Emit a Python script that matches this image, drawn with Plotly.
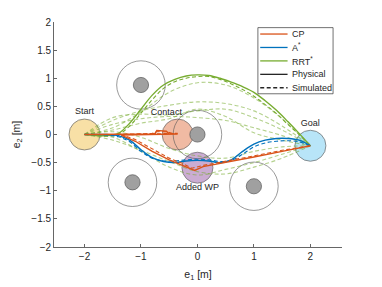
import plotly.graph_objects as go

# ---------------- data ----------------
# obstacles (centre x, centre y)
obs_x = [-1.0, 0.0, -1.15, 1.0]
obs_y = [0.88, 0.0, -0.85, -0.92]
obs_core_r = 0.135
obs_safe_r = 0.43

# waypoint discs
wp_names = ["Start", "Contact", "Added WP", "Goal"]
wp_x = [-2.0, -0.35, 0.0, 2.0]
wp_y = [0.0, 0.0, -0.59, -0.2]
wp_r = 0.275
wp_fill = ["rgba(237,177,32,0.4)", "rgba(217,83,25,0.4)",
           "rgba(126,47,142,0.4)", "rgba(77,190,238,0.4)"]
lbl_x = [-2.0, -0.55, 0.0, 2.0]
lbl_y = [0.4, 0.39, -0.95, 0.2]

# CP (contact-based) path
cp_phys_x = [-2.0, -1.4, -0.8, -0.75, -0.72, -0.55, -0.5, -0.35,
             -1.35, -1.1, -0.8, -0.5, -0.25, -0.05, 0.1, 0.5, 1.0, 1.5, 2.0]
cp_phys_y = [0.0, 0.0, 0.01, 0.02, 0.07, 0.06, 0.01, 0.01,
             -0.01, -0.12, -0.3, -0.45, -0.55, -0.64, -0.57, -0.5, -0.4, -0.3, -0.2]
cp_sim_x = [-2.0, -1.4, -0.8, -0.72, -0.55, -0.45, -0.35,
            -1.35, -1.1, -0.8, -0.5, -0.25, -0.1, 0.1, 0.5, 1.0, 1.5, 2.0]
cp_sim_y = [0.0, 0.0, 0.02, 0.05, 0.05, 0.02, 0.02,
            0.0, -0.09, -0.26, -0.42, -0.52, -0.6, -0.55, -0.48, -0.38, -0.28, -0.2]

# A* path
as_phys_x = [-2.0, -1.6, -1.4, -1.2, -1.0, -0.8, -0.6, -0.4, -0.2, 0.0,
             0.2, 0.4, 0.6, 0.8, 1.0, 1.2, 1.4, 1.6, 1.8, 2.0]
as_phys_y = [0.0, 0.0, -0.02, -0.1, -0.27, -0.41, -0.48, -0.5, -0.47, -0.46,
             -0.47, -0.5, -0.45, -0.3, -0.17, -0.1, -0.07, -0.07, -0.1, -0.2]
as_sim_x = [-2.0, -1.6, -1.4, -1.2, -1.0, -0.8, -0.6, -0.4, -0.2, 0.0,
            0.2, 0.4, 0.6, 0.8, 1.0, 1.2, 1.4, 1.6, 1.8, 2.0]
as_sim_y = [0.0, -0.01, -0.04, -0.13, -0.3, -0.42, -0.47, -0.47, -0.45, -0.44,
            -0.45, -0.48, -0.46, -0.35, -0.22, -0.15, -0.12, -0.11, -0.13, -0.2]

# RRT* path
rrt_phys_x = [-2.0, -1.6, -1.4, -1.2, -1.0, -0.8, -0.6, -0.4, -0.2, 0.0,
              0.2, 0.4, 0.6, 0.8, 1.0, 1.2, 1.4, 1.6, 1.8, 2.0]
rrt_phys_y = [0.0, -0.02, 0.02, 0.2, 0.45, 0.7, 0.88, 0.98, 1.04, 1.06,
              1.05, 1.0, 0.93, 0.85, 0.75, 0.6, 0.43, 0.23, 0.02, -0.2]
rrt_sim_x = [-2.0, -1.6, -1.4, -1.2, -1.0, -0.8, -0.6, -0.4, -0.2, 0.0,
             0.2, 0.4, 0.6, 0.8, 1.0, 1.2, 1.4, 1.6, 1.8, 2.0]
rrt_sim_y = [0.0, -0.03, 0.0, 0.15, 0.38, 0.62, 0.82, 0.94, 1.0, 1.03,
             1.03, 0.98, 0.9, 0.8, 0.68, 0.53, 0.37, 0.18, 0.0, -0.2]

# other simulated RRT* trials (light dashed)
trial_x = [-2.0, -1.5, -1.0, -0.5, 0.0, 0.5, 1.0, 1.5, 2.0]
trial_ys = [
    [0.0, 0.12, 0.4, 0.75, 0.92, 0.88, 0.65, 0.28, -0.2],
    [0.0, 0.25, 0.42, 0.52, 0.58, 0.55, 0.42, 0.15, -0.2],
    [0.0, 0.3, 0.36, 0.35, 0.42, 0.45, 0.3, 0.08, -0.2],
    [0.0, 0.18, 0.28, 0.32, 0.3, 0.25, 0.12, -0.02, -0.2],
    [0.0, 0.08, 0.2, 0.28, 0.45, 0.32, 0.03, -0.1, -0.2],
    [0.0, -0.1, -0.28, -0.48, -0.66, -0.7, -0.58, -0.42, -0.2],
    [0.0, -0.05, -0.3, -0.58, -0.72, -0.62, -0.5, -0.35, -0.2],
    [0.0, 0.05, -0.05, -0.25, -0.38, -0.42, -0.3, -0.22, -0.2],
]

# legend entries
leg_names = ["CP", "A<sup>*</sup>", "RRT<sup>*</sup>", "Physical", "Simulated"]
leg_colors = ["#D95319", "#0072BD", "#77AC30", "#262626", "#262626"]
leg_dash = ["solid", "solid", "solid", "solid", "dash"]

x_ticks = [-2, -1, 0, 1, 2]
y_ticks = [-2, -1.5, -1, -0.5, 0, 0.5, 1, 1.5, 2]

# ---------------- figure ----------------
CP_C, AS_C, RRT_C = "#D95319", "#0072BD", "#77AC30"
LIGHT = "rgba(119,172,48,0.55)"
FONT = "Liberation Sans, Arial, sans-serif"
DASH = "4px,2.5px"

fig = go.Figure()

shapes = []
for i in range(len(wp_x)):
    shapes.append(dict(type="circle", xref="x", yref="y", layer="below",
                       x0=wp_x[i] - wp_r, x1=wp_x[i] + wp_r,
                       y0=wp_y[i] - wp_r, y1=wp_y[i] + wp_r,
                       fillcolor=wp_fill[i], line=dict(color="#666", width=0.7)))
for i in range(len(obs_x)):
    shapes.append(dict(type="circle", xref="x", yref="y", layer="below",
                       x0=obs_x[i] - obs_safe_r, x1=obs_x[i] + obs_safe_r,
                       y0=obs_y[i] - obs_safe_r, y1=obs_y[i] + obs_safe_r,
                       fillcolor="rgba(0,0,0,0)", line=dict(color="#555", width=0.6)))
    shapes.append(dict(type="circle", xref="x", yref="y", layer="below",
                       x0=obs_x[i] - obs_core_r, x1=obs_x[i] + obs_core_r,
                       y0=obs_y[i] - obs_core_r, y1=obs_y[i] + obs_core_r,
                       fillcolor="#a0a0a0", line=dict(color="#555", width=0.7)))

for ty in trial_ys:
    fig.add_trace(go.Scatter(x=trial_x, y=ty, mode="lines", line_shape="spline",
                             line=dict(color=LIGHT, width=1.1, dash=DASH),
                             showlegend=False, hoverinfo="skip"))

fig.add_trace(go.Scatter(x=rrt_sim_x, y=rrt_sim_y, mode="lines", line_shape="spline",
                         line=dict(color=RRT_C, width=1.1, dash=DASH), showlegend=False))
fig.add_trace(go.Scatter(x=rrt_phys_x, y=rrt_phys_y, mode="lines", line_shape="spline",
                         line=dict(color=RRT_C, width=1.4), showlegend=False))
fig.add_trace(go.Scatter(x=as_sim_x, y=as_sim_y, mode="lines", line_shape="spline",
                         line=dict(color=AS_C, width=1.1, dash=DASH), showlegend=False))
fig.add_trace(go.Scatter(x=as_phys_x, y=as_phys_y, mode="lines", line_shape="spline",
                         line=dict(color=AS_C, width=1.4), showlegend=False))
fig.add_trace(go.Scatter(x=cp_sim_x, y=cp_sim_y, mode="lines",
                         line=dict(color=CP_C, width=1.1, dash=DASH), showlegend=False))
fig.add_trace(go.Scatter(x=cp_phys_x, y=cp_phys_y, mode="lines",
                         line=dict(color=CP_C, width=1.4), showlegend=False))

fig.add_trace(go.Scatter(x=lbl_x, y=lbl_y, mode="text", text=wp_names,
                         textfont=dict(family=FONT, size=9, color="#262626"),
                         showlegend=False, hoverinfo="skip"))

# custom legend box (paper coordinates)
L_X0, L_X1, L_Y0, L_Y1 = 0.708, 0.969, 0.681, 0.975
shapes.append(dict(type="rect", xref="paper", yref="paper", x0=L_X0, x1=L_X1,
                   y0=L_Y0, y1=L_Y1, fillcolor="white", line=dict(color="#333", width=0.7)))
annotations = []
for i, name in enumerate(leg_names):
    yy = L_Y1 - 0.0285 - i * 0.0597
    shapes.append(dict(type="line", xref="paper", yref="paper", x0=0.716, x1=0.811,
                       y0=yy, y1=yy,
                       line=dict(color=leg_colors[i], width=1.3,
                                 dash=DASH if leg_dash[i] == "dash" else "solid")))
    annotations.append(dict(xref="paper", yref="paper", x=0.819, y=yy, text=name,
                            showarrow=False, xanchor="left", yanchor="middle",
                            font=dict(family=FONT, size=9, color="#262626")))

axis_common = dict(showline=True, linecolor="#666", linewidth=0.8, mirror=False,
                   ticks="inside", ticklen=3, tickcolor="#666", tickwidth=0.8,
                   showgrid=False, zeroline=False, automargin=False,
                   tickfont=dict(family=FONT, size=10, color="#262626"),
                   title_font=dict(family=FONT, size=10.5, color="#262626"))

# page body adds an 8px offset, so the figure is 8px smaller on each side
fig.update_layout(
    width=374, height=279,
    margin=dict(l=46.3, r=40.3, t=14.3, b=40.1),
    paper_bgcolor="white", plot_bgcolor="white",
    shapes=shapes, annotations=annotations, showlegend=False,
    xaxis=dict(range=[-2.54, 2.56], tickvals=x_ticks,
               title=dict(text="e<sub>1</sub> [m]", standoff=9), **axis_common),
    yaxis=dict(range=[-2, 2], tickvals=y_ticks,
               title=dict(text="e<sub>2</sub> [m]", standoff=8), **axis_common),
)

fig.write_html("out.html")
